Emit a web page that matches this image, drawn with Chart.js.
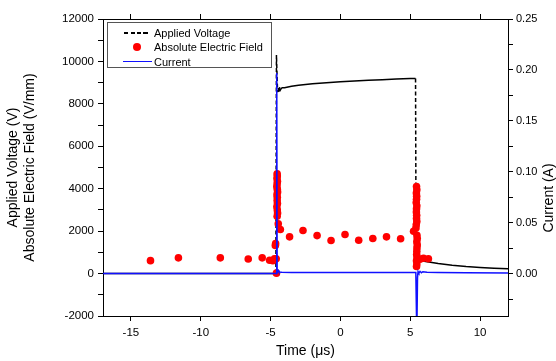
<!DOCTYPE html>
<html>
<head>
<meta charset="utf-8">
<script src="https://cdn.jsdelivr.net/npm/chart.js@4/dist/chart.umd.min.js"></script>
<style>
  html, body { margin: 0; padding: 0; background: #fff; }
  #wrap { position: relative; width: 556px; height: 361px; }
  #legend {
    position: absolute; left: 107px; top: 22px; width: 165px; height: 46px;
    box-sizing: border-box; border: 1px solid #555; background: #fff;
    font: 11px "Liberation Sans", Arial, sans-serif; color: #000;
  }
  #legend .txt { position: absolute; left: 46px; height: 14px; line-height: 14px; white-space: nowrap; }
  #legend .dash { position: absolute; left: 16px; width: 24px; height: 2px;
    background: repeating-linear-gradient(to right, #000 0 4px, transparent 4px 6.5px); }
  #legend .dot { position: absolute; left: 25px; width: 8px; height: 8px; border-radius: 50%; background: #ff0000; }
  #legend .line { position: absolute; left: 15px; width: 29px; height: 1px; background: #1010ff; }
</style>
</head>
<body>
<div id="wrap">
  <canvas id="chart" width="556" height="361"></canvas>
  <div id="legend">
    <div class="dash" style="top:9px"></div><div class="txt" style="top:3px">Applied Voltage</div>
    <div class="dot" style="top:20px"></div><div class="txt" style="top:17px">Absolute Electric Field</div>
    <div class="line" style="top:38px"></div><div class="txt" style="top:32px">Current</div>
  </div>
</div>
<script>
// ---- Data ----
const voltageTime  = [-17, -4.62, -4.58, -4.50, -4.45, -4.40, -4.35, -4.30, -4.20, -4.0, -3.5, -3, -2, -1, 0, 1, 2, 3, 4, 5, 5.38, 5.42, 5.6, 6, 7, 8, 9, 10, 11, 12];
const voltageValues = [0, 0, 10300, 8550, 8750, 8560, 8800, 8650, 8760, 8760, 8830, 8880, 8950, 9000, 9040, 9080, 9110, 9140, 9170, 9190, 9200, 600, 640, 580, 470, 390, 330, 290, 255, 230];

const fieldTime = [
  -13.6, -11.6, -8.6, -6.6, -5.6, -5.07, -4.84, -4.72, -4.66,
  -4.53, -4.52, -4.54, -4.51, -4.53, -4.55, -4.52, -4.50, -4.54, -4.52, -4.53, -4.51, -4.55, -4.52, -4.50, -4.53,
  -4.45, -4.3, -4.64, -4.6, -4.58,
  -3.64, -2.68, -1.67, -0.67, 0.33, 1.31, 2.32, 3.30, 4.31,
  5.24,
  5.45, 5.47, 5.44, 5.46, 5.45, 5.43, 5.47, 5.45, 5.44, 5.46, 5.45, 5.47, 5.43, 5.41,
  5.48, 5.50, 5.47, 5.50, 5.48, 5.47, 5.46, 5.48, 5.45, 5.47, 5.45,
  5.70, 5.95, 6.30
];
const fieldValues = [
  610, 740, 740, 690, 740, 630, 610, 700, 1320,
  4700, 4600, 4480, 4350, 4230, 4100, 3980, 3850, 3720, 3600, 3450, 3300, 3150, 3000, 2850, 2700,
  2350, 2075, 1410, 700, 20,
  1730, 2030, 1790, 1560, 1840, 1570, 1650, 1730, 1640,
  1995,
  4100, 3950, 3800, 3650, 3500, 3350, 3200, 3050, 2900, 2750, 2600, 2450, 2300, 2150,
  1800, 1650, 1500, 1350, 1200, 1050, 900, 750, 600, 450, 330,
  680, 720, 700
];

const currentTime   = [-17, -4.60, -4.56, -4.53, -4.50, -4.45, -4.40, -4.2, -3.5, 0, 3, 5.40, 5.47, 5.52, 5.56, 5.62, 5.70, 5.80, 5.90, 6.2, 7, 9, 12];
const currentValues = [0, 0, 0.197, 0.004, 0.0015, 0.003, 0.0015, 0.0012, 0.001, 0.001, 0.001, 0.001, -0.06, -0.004, 0.002, 0.0005, 0.0022, 0.0008, 0.0018, 0.0012, 0.001, 0.0008, 0.0006];

const timeTicks    = [-15, -10, -5, 0, 5, 10];
const voltageTicks = [-2000, -1000, 0, 1000, 2000, 3000, 4000, 5000, 6000, 7000, 8000, 9000, 10000, 11000, 12000];
const currentTicks = [-0.025, 0, 0.025, 0.05, 0.075, 0.1, 0.125, 0.15, 0.175, 0.2, 0.225, 0.25];

const xy = (xs, ys) => xs.map((x, i) => ({ x: x, y: ys[i] }));

// ---- Chart ----
const FONT = '"Liberation Sans", Arial, sans-serif';
Chart.defaults.font.family = FONT;
Chart.defaults.color = '#000';

const setTicks = list => scale => { scale.ticks = list.map(v => ({ value: v })); };
const edgeGrid = { drawOnChartArea: false, color: '#000', tickLength: 5, tickWidth: 1 };
const edgeBorder = { color: '#000', width: 1 };

// right-hand title reads bottom-to-top, which Chart.js does not do for a right axis
const rightTitle = {
  id: 'rightTitle',
  afterDraw(chart) {
    const ctx = chart.ctx;
    ctx.save();
    ctx.translate(549, 198);
    ctx.rotate(-Math.PI / 2);
    ctx.font = '14px ' + FONT;
    ctx.fillStyle = '#000';
    ctx.textAlign = 'center';
    ctx.textBaseline = 'middle';
    ctx.fillText('Current (A)', 0, 0);
    ctx.restore();
  }
};

new Chart(document.getElementById('chart'), {
  type: 'scatter',
  data: {
    datasets: [
      { label: 'Current', data: xy(currentTime, currentValues), yAxisID: 'yR', showLine: true,
        pointRadius: 0, borderColor: '#1010ff', borderWidth: 1.5, clip: 0 },
      { label: 'Absolute Electric Field', data: xy(fieldTime, fieldValues), yAxisID: 'y', showLine: false,
        pointRadius: 3.8, backgroundColor: '#ff0000', borderWidth: 0 },
      { label: 'Applied Voltage', data: xy(voltageTime, voltageValues), yAxisID: 'y', showLine: true,
        pointRadius: 0, borderColor: '#000', borderWidth: 1.5,
        segment: { borderDash: ctx => Math.abs(ctx.p1.parsed.x - ctx.p0.parsed.x) < 0.1 ? [4, 2.5] : [] } }
    ]
  },
  options: {
    responsive: false,
    animation: false,
    devicePixelRatio: 1,
    layout: { padding: 0 },
    plugins: { legend: { display: false }, tooltip: { enabled: false } },
    scales: {
      x: {
        type: 'linear', position: 'bottom', min: -17, max: 12,
        afterBuildTicks: setTicks(timeTicks),
        afterFit: s => { s.height = 45; },
        grid: edgeGrid, border: edgeBorder,
        ticks: { font: { size: 11.5 }, padding: 5, maxRotation: 0 },
        title: { display: true, text: 'Time (μs)', font: { size: 14 }, padding: { top: 0, bottom: 1 } }
      },
      xTop: {
        type: 'linear', position: 'top', min: -17, max: 12,
        afterBuildTicks: setTicks(timeTicks),
        afterFit: s => { s.height = 19; },
        grid: edgeGrid, border: edgeBorder,
        ticks: { callback: () => '' }
      },
      y: {
        type: 'linear', position: 'left', min: -2000, max: 12000,
        afterBuildTicks: setTicks(voltageTicks),
        afterFit: s => { s.width = 103; },
        grid: edgeGrid, border: edgeBorder,
        ticks: { font: { size: 11.5 }, padding: 4, callback: v => (v % 2000 === 0 ? String(v) : '') },
        title: { display: true, text: ['Applied Voltage (V)', 'Absolute Electric Field (V/mm)'],
                 font: { size: 14, lineHeight: 1.25 }, padding: { top: 4, bottom: 0 } }
      },
      yR: {
        type: 'linear', position: 'right', min: -2000 * 0.25 / 12000, max: 0.25,
        afterBuildTicks: setTicks(currentTicks),
        afterFit: s => { s.width = 48; },
        grid: edgeGrid, border: edgeBorder,
        ticks: { font: { size: 11 }, padding: 3,
                 callback: v => (Math.abs(Math.round(v * 1000) % 50) === 0 ? v.toFixed(2) : '') }
      }
    }
  },
  plugins: [rightTitle]
});
</script>
</body>
</html>
